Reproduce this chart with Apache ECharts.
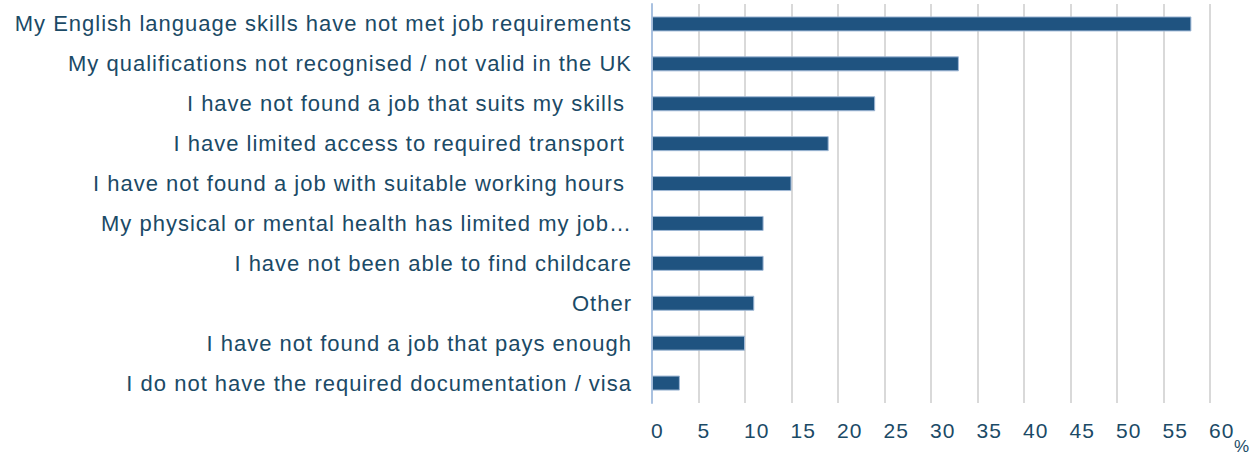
<!DOCTYPE html>
<html>
<head>
<meta charset="utf-8">
<script src="https://cdn.jsdelivr.net/npm/echarts@6/dist/echarts.min.js"></script>
<style>
  html, body { margin: 0; padding: 0; background: #fff; }
  #chart { width: 1250px; height: 455px; }
  /* source chart text is set a little wide */
  #chart text { letter-spacing: 1px; }
</style>
</head>
<body>
<div id="chart"></div>
<script>
// Categories, top to bottom as in the picture
const reasons = [
  'My English language skills have not met job requirements',
  'My qualifications not recognised / not valid in the UK',
  'I have not found a job that suits my skills ',
  'I have limited access to required transport ',
  'I have not found a job with suitable working hours ',
  'My physical or mental health has limited my job\u2026',
  'I have not been able to find childcare',
  'Other',
  'I have not found a job that pays enough',
  'I do not have the required documentation / visa'
]
// Percent of respondents
const percents = [58, 33, 24, 19, 15, 12, 12, 11, 10, 3]
const xTicks = [0, 5, 10, 15, 20, 25, 30, 35, 40, 45, 50, 55, 60]

const textColor = '#1b4a66'
const barColor = '#1f5380'

const chart = echarts.init(document.getElementById('chart'), null, { renderer: 'svg' })
chart.setOption({
  animation: false,
  textStyle: { fontFamily: 'Liberation Sans, Arial, sans-serif' },
  grid: { left: 652, right: 40, top: 4, bottom: 52, containLabel: false, outerBoundsMode: 'none' },
  // unit label sitting low after the last tick
  graphic: [{
    type: 'text',
    left: 1234,
    top: 438,
    style: { text: '%', fill: textColor, fontSize: 17, fontFamily: 'Liberation Sans, Arial, sans-serif' }
  }],
  xAxis: {
    type: 'value',
    min: xTicks[0],
    max: xTicks[xTicks.length - 1],
    interval: 5,
    axisLine: { show: false },
    axisTick: { show: false },
    axisLabel: { color: textColor, fontSize: 21, margin: 17, align: 'left', padding: [0, 0, 0, -1] },
    splitLine: { show: true, lineStyle: { color: '#d9d9d9', width: 2 } }
  },
  yAxis: {
    type: 'category',
    inverse: true,
    data: reasons,
    axisLine: { show: true, lineStyle: { color: '#a9c1e0', width: 2 } },
    axisTick: { show: false },
    axisLabel: { color: textColor, fontSize: 22, margin: 20 }
  },
  series: [{
    name: 'Reasons',
    type: 'bar',
    data: percents,
    barWidth: 15,
    itemStyle: { color: barColor, borderColor: '#9fb8d6', borderWidth: 1 }
  }]
})
</script>
</body>
</html>
